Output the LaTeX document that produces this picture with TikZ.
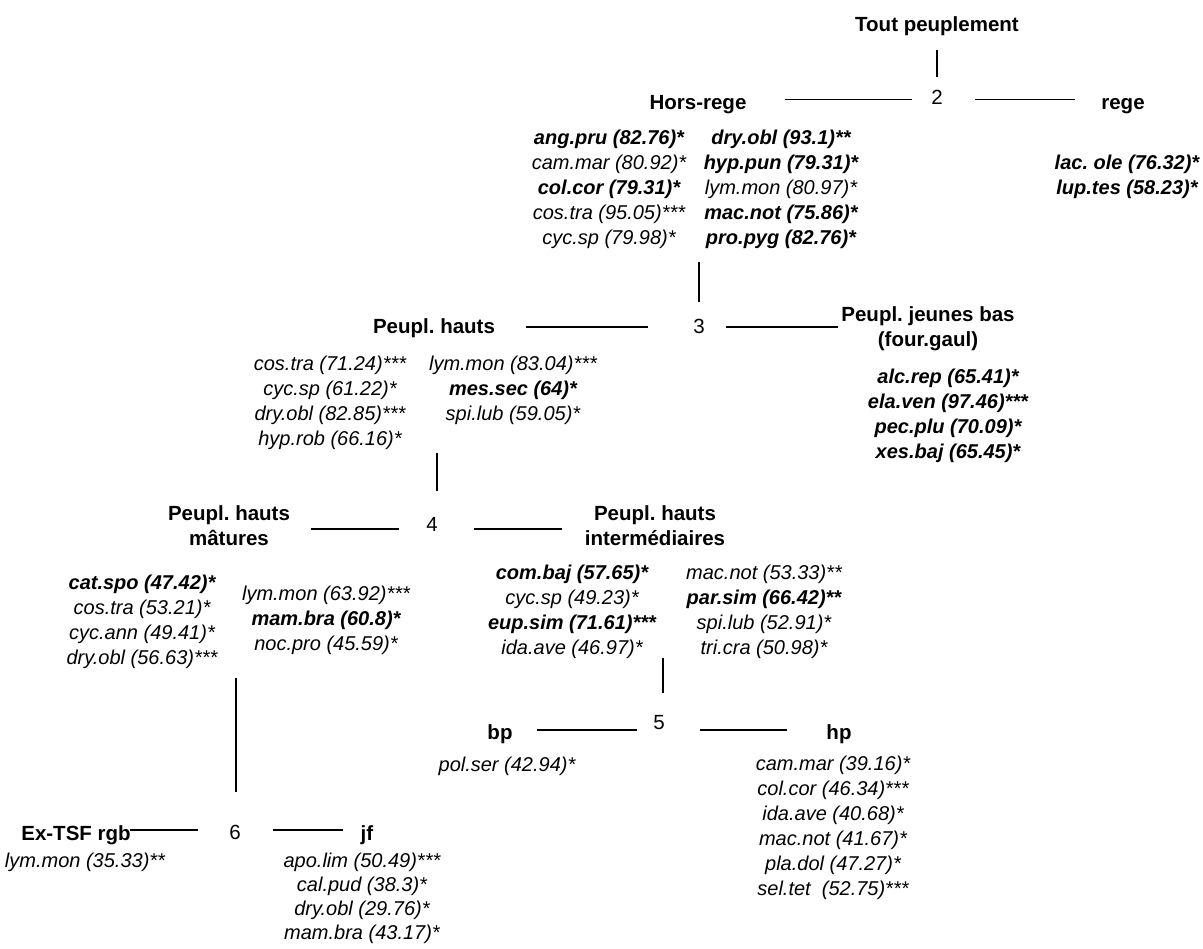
\documentclass[tikz,border=0pt]{standalone}
\usepackage{fontspec}
\setmainfont{Liberation Sans}
\frenchspacing
\begin{document}
\begin{tikzpicture}[x=1pt,y=-1pt,
  lab/.style={font=\bfseries\fontsize{20.5}{25}\selectfont, inner sep=0pt, anchor=base},
  labm/.style={font=\bfseries\fontsize{20.5}{25}\selectfont, inner sep=0pt, align=center, anchor=north},
  num/.style={font=\fontsize{20.5}{25}\selectfont, inner sep=0pt, anchor=base},
  lst/.style={font=\itshape\fontsize{20}{#1}\selectfont, inner sep=0pt, align=center, anchor=north},
  lst/.default=25,
  ln/.style={line width=1.3pt}]
\useasboundingbox (0,0) rectangle (1203,949);

% ---- row 1 / 2
\node[lab] (tout) at (937,32) {Tout peuplement};
\node[num] (n2) at (937,105) {2};
\node[lab] (hors) at (698,110) {Hors-rege};
\node[lab] (rege) at (1123,110) {rege};
\node[lst] (hr1) at (609,129.4) {\textbf{ang.pru (82.76)*}\\cam.mar (80.92)*\\\textbf{col.cor (79.31)*}\\cos.tra (95.05)***\\cyc.sp (79.98)*};
\node[lst] (hr2) at (781,129.4) {\textbf{dry.obl (93.1)**}\\\textbf{hyp.pun (79.31)*}\\lym.mon (80.97)*\\\textbf{mac.not (75.86)*}\\\textbf{pro.pyg (82.76)*}};
\node[lst] (rg) at (1127,154.4) {\textbf{lac. ole (76.32)*}\\\textbf{lup.tes (58.23)*}};

% ---- row 3
\node[num] (n3) at (699,334) {3};
\node[lab] (ph) at (434,334) {Peupl. hauts};
\node[labm] (jb) at (928,306) {Peupl. jeunes bas\\(four.gaul)};
\node[lst] (ph1) at (330,355.4) {cos.tra (71.24)***\\cyc.sp (61.22)*\\dry.obl (82.85)***\\hyp.rob (66.16)*};
\node[lst] (ph2) at (513,355.4) {lym.mon (83.04)***\\\textbf{mes.sec (64)*}\\spi.lub (59.05)*};
\node[lst] (jbl) at (948,368.4) {\textbf{alc.rep (65.41)*}\\\textbf{ela.ven (97.46)***}\\\textbf{pec.plu (70.09)*}\\\textbf{xes.baj (65.45)*}};

% ---- row 4
\node[num] (n4) at (432,532) {4};
\node[labm] (pm) at (229,505) {Peupl. hauts\\mâtures};
\node[labm] (pi) at (655,505) {Peupl. hauts\\intermédiaires};
\node[lst] (pm1) at (142,574.4) {\textbf{cat.spo (47.42)*}\\cos.tra (53.21)*\\cyc.ann (49.41)*\\dry.obl (56.63)***};
\node[lst] (pm2) at (326,585.4) {lym.mon (63.92)***\\\textbf{mam.bra (60.8)*}\\noc.pro (45.59)*};
\node[lst] (pi1) at (572,564.4) {\textbf{com.baj (57.65)*}\\cyc.sp (49.23)*\\\textbf{eup.sim (71.61)***}\\ida.ave (46.97)*};
\node[lst] (pi2) at (764,564.4) {mac.not (53.33)**\\\textbf{par.sim (66.42)**}\\spi.lub (52.91)*\\tri.cra (50.98)*};

% ---- row 5
\node[num] (n5) at (659,729) {5};
\node[lab] (bp) at (500,739) {bp};
\node[lab] (hp) at (839,739) {hp};
\node[lst] (pol) at (507,756.4) {pol.ser (42.94)*};
\node[lst] (hpl) at (833,755.4) {cam.mar (39.16)*\\col.cor (46.34)***\\ida.ave (40.68)*\\mac.not (41.67)*\\pla.dol (47.27)*\\sel.tet\ \ (52.75)***};

% ---- row 6
\node[num] (n6) at (235,839) {6};
\node[lab] (ex) at (76,840) {Ex-TSF rgb};
\node[lab] (jf) at (367,840) {jf};
\node[lst] (exl) at (85,852.4) {lym.mon (35.33)**};
\node[lst=24] (jfl) at (362,852.4) {apo.lim (50.49)***\\cal.pud (38.3)*\\dry.obl (29.76)*\\mam.bra (43.17)*};

% ---- vertical connectors
\draw[ln,shorten <=14pt,shorten >=13.6pt] (tout.south -| n2.north) -- (n2.north);
\draw[ln,shorten <=14pt,shorten >=17pt] (n3.north |- hr2.south) -- (n3.north);
\draw[ln,shorten <=3.4pt,shorten >=27pt] ([xshift=5pt]n4.north |- ph1.south) -- ([xshift=5pt]n4.north);
\draw[ln,shorten <=0pt,shorten >=22pt] ([xshift=4pt]n5.north |- pi1.south) -- ([xshift=4pt]n5.north);
\draw[ln,shorten <=10pt,shorten >=32pt] ([xshift=1pt]n6.north |- pm1.south) -- ([xshift=1pt]n6.north);

% ---- horizontal connectors
\draw[ln,shorten <=38pt,shorten >=19pt] ([yshift=-2pt]hors.east |- n2.center) -- ([yshift=-2pt]n2.west);
\draw[ln,shorten <=32pt,shorten >=26pt] ([yshift=-2pt]n2.east) -- ([yshift=-2pt]n2.east -| rege.west);
\draw[ln,shorten <=31pt,shorten >=45pt] (ph.east |- n3.center) -- (n3.west);
\draw[ln,shorten <=21pt,shorten >=3pt] (n3.east) -- (n3.east -| jb.west);
\draw[ln,shorten <=21pt,shorten >=27pt] ([yshift=-4pt]pm.east |- n4.center) -- ([yshift=-4pt]n4.west);
\draw[ln,shorten <=36pt,shorten >=23pt] ([yshift=-4pt]n4.east) -- ([yshift=-4pt]n4.east -| pi.west);
\draw[ln,shorten <=24.5pt,shorten >=16pt] ([yshift=-8pt]bp.east |- n5.center) -- ([yshift=-8pt]n5.west);
\draw[ln,shorten <=35pt,shorten >=39.5pt] ([yshift=-8pt]n5.east) -- ([yshift=-8pt]n5.east -| hp.west);
\draw[ln,shorten <=-1pt,shorten >=31pt] ([yshift=2pt]ex.east |- n6.center) -- ([yshift=2pt]n6.west);
\draw[ln,shorten <=32pt,shorten >=18pt] ([yshift=2pt]n6.east) -- ([yshift=2pt]n6.east -| jf.west);
\end{tikzpicture}
\end{document}
